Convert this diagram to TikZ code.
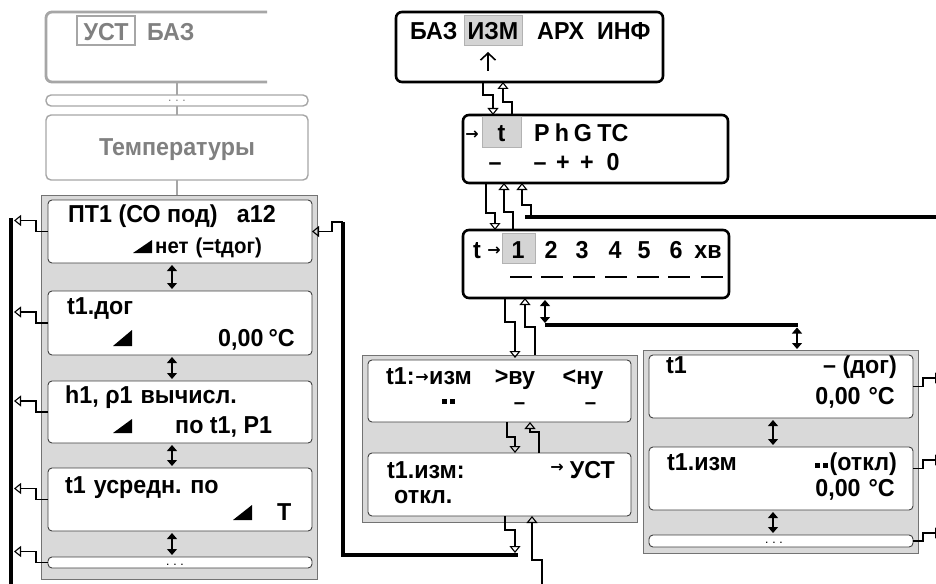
\documentclass[tikz,border=0pt]{standalone}
\usepackage{fontspec}
\setmainfont{Liberation Sans}[FakeStretch=0.95]
\newfontfamily\symf{DejaVu Sans}
\usetikzlibrary{arrows.meta}
\definecolor{gtx}{HTML}{808080}
\definecolor{gln}{HTML}{A6A6A6}
\definecolor{cfill}{HTML}{D9D9D9}
\definecolor{hlfill}{HTML}{D4D4D4}
\newcommand\fa{\fontsize{24.5}{28}\selectfont\bfseries}
\newcommand\fb{\fontsize{21.5}{25}\selectfont\bfseries}
\newcommand\fs{\fontsize{16}{16}\selectfont\symf\bfseries}
\newcommand\fd{\fontsize{9}{9}\selectfont\bfseries}
\newcommand\sq{\rule[2.5pt]{5pt}{5pt}\hspace{3pt}\rule[2.5pt]{5pt}{5pt}}
\begin{document}
\begin{tikzpicture}[x=1pt,y=-1pt,
  mbox/.style={draw=black, line width=2.6pt, fill=white, rounded corners=6pt, inner sep=0pt, outer sep=0pt},
  ibox/.style={draw=black!75, line width=0.9pt, fill=white, rounded corners=4pt, inner sep=0pt, outer sep=0pt},
  cbox/.style={draw=black!55, line width=0.9pt, fill=cfill, inner sep=0pt, outer sep=0pt},
  gbox/.style={draw=gln, line width=1.4pt, fill=white, rounded corners=5pt, inner sep=0pt, outer sep=0pt},
  hlbox/.style={draw=black!30, line width=1pt, fill=hlfill, inner sep=0pt, outer sep=0pt},
  conn/.style={line width=1.1pt},
  oarr/.style={conn, -{Triangle[open, length=7pt, width=11pt]}},
  darr/.style={conn, {Triangle[length=6pt,width=10pt]}-{Triangle[length=6pt,width=10pt]}},
  bus/.style={line width=3.5pt},
  ta/.style={font=\fa, inner sep=0pt, anchor=base west},
  tb/.style={font=\fb, inner sep=0pt, anchor=base west},
  sa/.style={font=\fs, inner sep=0pt, anchor=center},
  dt/.style={font=\fd, inner sep=0pt, anchor=base},
  dashline/.style={line width=2.6pt}
]
\useasboundingbox (0,0) rectangle (936,583);
\clip (0,0) rectangle (936,583);
\fill[white] (0,0) rectangle (936,583);

% ---------- top-left ghost screens ----------
\draw[gln, line width=2.8pt, rounded corners=6pt] (267,12) -- (46,12) -- (46,82) -- (267,82);
\node[draw=gln, line width=1.5pt, fill=white, minimum width=58pt, minimum height=29pt, inner sep=0pt] (ustb) at (106,30.5) {};
\node[ta, text=gtx, anchor=base] (ust) at (106,41) {УСТ};
\node[ta, text=gtx] (baz0) at (147,41) {БАЗ};
\node[gbox, minimum width=262pt, minimum height=11pt] (TD) at (177,100.5) {};
\node[dt, text=gtx] (tdd) at (177,102) {.\ \ .\ \ .};
\node[gbox, minimum width=262pt, minimum height=65pt] (TT) at (177,147.5) {};
\node[ta, text=gtx, anchor=base] (temp) at (177,155) {Температуры};
\draw[gln, line width=1.3pt] (177,83.5) -- (TD.north);
\draw[gln, line width=1.3pt] (TD.south) -- (TT.north);
\draw[gln, line width=1.3pt] (TT.south) -- (177,195);

% ---------- left column ----------
\node[cbox, minimum width=276pt, minimum height=384pt] (L) at (179,387) {};
\node[ibox, minimum width=264pt, minimum height=63pt] (L1) at (180,231.5) {};
\node[ibox, minimum width=264pt, minimum height=64pt] (L2) at (180,323) {};
\node[ibox, minimum width=264pt, minimum height=62pt] (L3) at (180,412) {};
\node[ibox, minimum width=264pt, minimum height=63pt] (L4) at (180,499.5) {};
\node[ibox, minimum width=264pt, minimum height=11pt] (L5) at (180,562.5) {};

\node[ta] (l1a) at (68,222) {ПТ1 (СО под)};
\node[ta, anchor=base east] (l1b) at (276,222) {а12};
\fill (133,253) -- (152,253) -- (152,240) -- cycle;
\node[tb] (l1c) at (155,253) {нет\hspace{7pt}(=tдог)};

\node[ta] (l2a) at (67,314) {t1.дог};
\fill (113,346) -- (132,346) -- (132,330) -- cycle;
\node[ta] (l2b) at (218,346) {0,00};
\node[ta, anchor=base east] (l2c) at (295,346) {°C};

\node[ta] (l3a) at (65,403) {h1, ρ1\hspace{8pt}вычисл.};
\fill (113,433) -- (132,433) -- (132,419) -- cycle;
\node[ta] (l3b) at (175,433) {по t1, Р1};

\node[ta] (l4a) at (65,493) {t1\hspace{8pt}усредн. по};
\fill (233,520) -- (252,520) -- (252,505) -- cycle;
\node[ta] (l4b) at (277,520) {Т};

\node[dt] (l5d) at (175,565) {.\ \ .\ \ .};

\draw[darr, shorten <=2pt, shorten >=2pt] (L1.south -| 172,0) -- (L2.north -| 172,0);
\draw[darr, shorten <=2pt, shorten >=2pt] (L2.south -| 172,0) -- (L3.north -| 172,0);
\draw[darr, shorten <=2pt, shorten >=2pt] (L3.south -| 172,0) -- (L4.north -| 172,0);
\draw[darr, shorten <=2pt, shorten >=2pt] (L4.south -| 172,0) -- (L5.north -| 172,0);

% left bus
\coordinate (lbtop) at (11,218);
\coordinate (lbbot) at (11,590);
\draw[bus] (lbtop) -- (lbbot);
\foreach \n in {L1,L2,L3,L4,L5}{
  \draw[oarr] (\n.west) -- ++(-12,0) -- ++(0,-11) -- ++(-22,0);
}

% right bus of left column
\coordinate (rbtop) at (343,222);
\coordinate (rbend) at (518,555);
\draw[bus] (rbtop) -- (343,555) -- (rbend);
\draw[oarr] (rbtop) -- ++(-11,0) |- (L1.east);

% ---------- middle column ----------
\node[mbox, minimum width=267pt, minimum height=70pt] (A) at (529.5,47) {};
\node[hlbox, minimum width=58pt, minimum height=30pt] (Ah) at (493,31) {};
\node[ta] (a1) at (410,40) {БАЗ};
\node[ta, anchor=base] (a2) at (493,40) {ИЗМ};
\node[ta] (a3) at (537,40) {АРХ};
\node[ta] (a4) at (597,40) {ИНФ};
\coordinate (aupb) at (488,71);
\coordinate (aupt) at (488,52);
\draw[line width=1.6pt, -{Straight Barb[length=7pt,width=15pt,line width=1.6pt]}] (aupb) -- (aupt);

\node[mbox, minimum width=265pt, minimum height=68pt] (B) at (595.5,149) {};
\node[hlbox, minimum width=39pt, minimum height=30pt] (Bh) at (501.5,132) {};
\node[sa] (barr) at (472,135) {→};
\node[ta, anchor=base] (b1) at (501.5,141) {t};
\node[ta, anchor=base] (b2) at (542,141) {P};
\node[ta, anchor=base] (b3) at (562,141) {h};
\node[ta, anchor=base] (b4) at (583,141) {G};
\node[ta, anchor=base] (b5) at (613,141) {TC};
\node[ta, anchor=base] (b6) at (495,170) {–};
\node[ta, anchor=base] (b7) at (540,170) {–};
\node[ta, anchor=base] (b8) at (563,170) {+};
\node[ta, anchor=base] (b9) at (587,170) {+};
\node[ta, anchor=base] (b10) at (613,170) {0};

\node[mbox, minimum width=266pt, minimum height=68pt] (C) at (596,264) {};
\node[hlbox, minimum width=33pt, minimum height=30pt] (Ch) at (518.5,248) {};
\node[ta, anchor=base] (c0) at (477,258) {t};
\node[sa] (carr) at (494,251) {→};
\foreach \x/\t/\d [count=\i] in {518/1/521,551/2/552,582/3/584,615/4/616,644/5/648,676/6/679,708/хв/712}{
  \node[ta, anchor=base] (cd\i) at (\x,258) {\t};
  \draw[dashline] (\d-11,277) -- (\d+11,277);
}

% A <-> B
\draw[oarr] (A.south -| 483,0) -- (483,95) -- (493,95) -- (B.north -| 493,0);
\draw[oarr] (B.north -| 512,0) -- (512,102) -- (503,102) -- (A.south -| 503,0);
% B <-> C
\draw[oarr] (B.south -| 486,0) -- (486,213) -- (495,213) -- (C.north -| 495,0);
\draw[oarr] (C.north -| 513,0) -- (513,212) -- (504,212) -- (B.south -| 504,0);
\coordinate (hl1a) at (525,217);
\coordinate (hl1b) at (945,217);
\draw[bus] (hl1a) -- (hl1b);
\draw[oarr] (531,217) -- (531,205) -- (522,205) -- (B.south -| 522,0);

% D container
\node[cbox, minimum width=275pt, minimum height=167pt] (D) at (499.5,438.5) {};
\node[ibox, minimum width=263pt, minimum height=62pt] (D1) at (499.5,391) {};
\node[ibox, minimum width=263pt, minimum height=63pt] (D2) at (499.5,484.5) {};

\node[ta] (d1a) at (386,384) {t1:};
\node[sa] (d1arr) at (422,378) {→};
\node[ta] (d1b) at (429,384) {изм};
\node[ta, anchor=base] (d1c) at (515,384) {>ву};
\node[ta, anchor=base] (d1d) at (583,384) {<ну};
\node[inner sep=0pt, anchor=center] (d1e) at (448.5,402.5) {\sq};
\node[tb, anchor=base] (d1f) at (519.5,409) {–};
\node[tb, anchor=base] (d1g) at (590.5,409) {–};

\node[ta] (d2a) at (387,478) {t1.изм:};
\node[sa] (d2arr) at (557,468) {→};
\node[ta, anchor=base east] (d2b) at (615,478) {УСТ};
\node[ta] (d2c) at (394,503) {откл.};

% C <-> D
\draw[oarr] (C.south -| 505,0) -- (505,322) -- (515,322) -- (515,358);
\draw[oarr] (D.north -| 535,0) -- (535,327) -- (525,327) -- (C.south -| 525,0);
% D1 <-> D2
\draw[oarr] (D1.south -| 507,0) -- (507,437) -- (515,437) -- (D2.north -| 515,0);
\draw[oarr] (D2.north -| 539,0) -- (539,432) -- (530,432) -- (D1.south -| 530,0);
% D2 -> bus, bottom -> D2
\draw[oarr] (D2.south -| 505,0) -- (505,530) -- (515,530) -- (515,553);
\coordinate (botin) at (542,590);
\draw[oarr] (botin) -- (542,560) -- (532,560) -- (D2.south -| 532,0);

% C <-> line <-> E
\coordinate (hl2a) at (545,325);
\coordinate (hl2b) at (798,325);
\draw[bus] (hl2a) -- (hl2b);
\draw[darr, shorten <=2pt] (C.south -| 545,0) -- (545,323);
\draw[darr, shorten >=1pt] (797,327.5) -- (797,350);

% ---------- right column ----------
\node[cbox, minimum width=275pt, minimum height=203pt] (E) at (780.5,451.5) {};
\node[ibox, minimum width=264pt, minimum height=63pt] (E1) at (781,386.5) {};
\node[ibox, minimum width=264pt, minimum height=63pt] (E2) at (781,478.5) {};
\node[ibox, minimum width=264pt, minimum height=12pt] (E3) at (781,541) {};

\node[ta] (e1a) at (666,373) {t1};
\node[ta, anchor=base east] (e1b) at (897,373) {– (дог)};
\node[ta, anchor=base east] (e1c) at (895,404) {0,00\hspace{8pt}°C};
\node[ta] (e2a) at (667,470) {t1.изм};
\node[ta, anchor=base east] (e2b) at (897,470) {\sq\hspace{2pt}(откл)};
\node[ta, anchor=base east] (e2c) at (895,496) {0,00\hspace{8pt}°C};
\node[dt] (e3d) at (774,543) {.\ \ .\ \ .};

\draw[darr, shorten <=2pt, shorten >=2pt] (E1.south -| 773,0) -- (E2.north -| 773,0);
\draw[darr, shorten <=2pt, shorten >=2pt] (E2.south -| 773,0) -- (E3.north -| 773,0);

\draw[oarr] (E1.east) -- (923,386.5) -- (923,378) -- (942,378);
\draw[oarr] ([yshift=10pt]E2.east) -- (923,468.5) -- (923,460) -- (942,460);
\draw[oarr] (E3.east) -- (923,541) -- (923,533) -- (942,533);
\end{tikzpicture}
\end{document}
